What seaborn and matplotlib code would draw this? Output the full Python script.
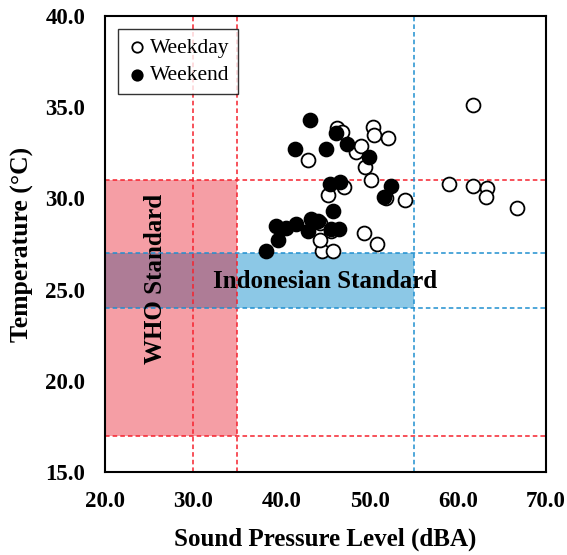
import pandas as pd
import seaborn as sns
import matplotlib.pyplot as plt
from matplotlib.patches import Rectangle
from matplotlib.ticker import FormatStrFormatter

# data
weekday_spl = [43.0, 46.3, 46.9, 48.5, 49.0, 49.5, 50.35, 50.5, 52.05, 50.2,
               47.1, 45.3, 51.9, 54.0, 61.75, 59.0, 61.75, 63.35, 63.2, 66.75,
               49.4, 50.8, 44.6, 45.9, 44.4, 45.6, 44.4]
weekday_temp = [32.1, 33.85, 33.65, 32.55, 32.85, 31.75, 33.9, 33.5, 33.3, 31.0,
                30.65, 30.2, 30.0, 29.9, 35.1, 30.8, 30.7, 30.6, 30.1, 29.5,
                28.1, 27.5, 27.1, 27.1, 27.75, 28.2, 28.65]

weekend_spl = [43.3, 41.6, 45.1, 46.2, 47.4, 49.9, 45.5, 46.6, 52.4, 51.6,
               45.8, 38.3, 39.6, 39.4, 40.5, 41.7, 43.0, 43.4, 44.2, 46.5, 45.6]
weekend_temp = [34.3, 32.7, 32.7, 33.6, 33.0, 32.3, 30.8, 30.9, 30.7, 30.1,
                29.3, 27.1, 27.7, 28.5, 28.4, 28.6, 28.2, 28.85, 28.75, 28.3, 28.3]

who_spl = [20, 35]     # WHO standard range (dBA)
who_temp = [17, 31]    # WHO standard range (C)
indo_spl = [20, 55]    # Indonesian standard (dBA)
indo_temp = [24, 27]   # Indonesian standard (C)

weekday = pd.DataFrame({"SPL": weekday_spl, "Temp": weekday_temp})
weekend = pd.DataFrame({"SPL": weekend_spl, "Temp": weekend_temp})

sns.set_style("white")
plt.rcParams['font.family'] = ['Liberation Serif', 'DejaVu Serif']
plt.rcParams['text.color'] = 'black'
plt.rcParams['axes.labelcolor'] = 'black'
plt.rcParams['xtick.color'] = 'black'
plt.rcParams['ytick.color'] = 'black'

fig = plt.figure(figsize=(5.67, 5.55), dpi=100)
ax = fig.add_axes([0.185, 0.1495, 0.778, 0.8215])

# shaded standard zones
ax.add_patch(Rectangle((indo_spl[0], indo_temp[0]), indo_spl[1] - indo_spl[0],
                       indo_temp[1] - indo_temp[0], facecolor=(140/255, 200/255, 230/255),
                       edgecolor="none", zorder=1))
ax.add_patch(Rectangle((who_spl[0], who_temp[0]), who_spl[1] - who_spl[0],
                       who_temp[1] - who_temp[0], facecolor=(230/255, 0, 20/255),
                       alpha=0.38, edgecolor="none", zorder=1.1))

red = "#f5222d"
blue = "#1f8fd0"
ls = (0, (3, 2))
for xv in [30, 35]:
    ax.axvline(xv, color=red, lw=1.1, ls=ls, zorder=1.5)
for yv in who_temp:
    ax.axhline(yv, color=red, lw=1.1, ls=ls, zorder=1.5)
ax.axvline(55, color=blue, lw=1.1, ls=ls, zorder=1.5)
for yv in indo_temp:
    ax.axhline(yv, color=blue, lw=1.1, ls=ls, zorder=1.5)

ax.text(25.7, 25.6, "WHO Standard", rotation=90, ha="center", va="center",
        fontsize=18, fontweight="bold", zorder=2)
ax.text(45.0, 25.45, "Indonesian Standard", ha="center", va="center",
        fontsize=18, fontweight="bold", zorder=2)

sns.scatterplot(data=weekday, x="SPL", y="Temp", ax=ax, s=100, color="white",
                edgecolor="black", linewidth=1.3, label="Weekday", zorder=3)
sns.scatterplot(data=weekend, x="SPL", y="Temp", ax=ax, s=100, color="black",
                edgecolor="black", linewidth=1.3, label="Weekend", zorder=3)

ax.set_xlim(20, 70)
ax.set_ylim(15, 40)
ax.set_xticks(range(20, 71, 10))
ax.set_yticks(range(15, 41, 5))
ax.xaxis.set_major_formatter(FormatStrFormatter("%.1f"))
ax.yaxis.set_major_formatter(FormatStrFormatter("%.1f"))
ax.tick_params(length=0, labelsize=16.5, pad=14, labelcolor="black")
for lab in ax.get_xticklabels() + ax.get_yticklabels():
    lab.set_fontweight("bold")

ax.set_xlabel("Sound Pressure Level (dBA)", fontsize=18, fontweight="bold", labelpad=11)
ax.set_ylabel("Temperature (\u00b0C)", fontsize=18.5, fontweight="bold", labelpad=8)

for sp in ax.spines.values():
    sp.set_color("black")
    sp.set_linewidth(1.5)
    sp.set_zorder(4)

leg = ax.legend(loc="upper left", fontsize=15.5, frameon=True, fancybox=False,
                markerscale=0.75, handletextpad=0.1, borderpad=0.4,
                labelspacing=0.35, handlelength=1.0, borderaxespad=0.6)
leg.get_frame().set_edgecolor("black")
leg.get_frame().set_linewidth(1.0)
for t in leg.get_texts():
    t.set_color("black")

fig.savefig("out.png", dpi=100)
